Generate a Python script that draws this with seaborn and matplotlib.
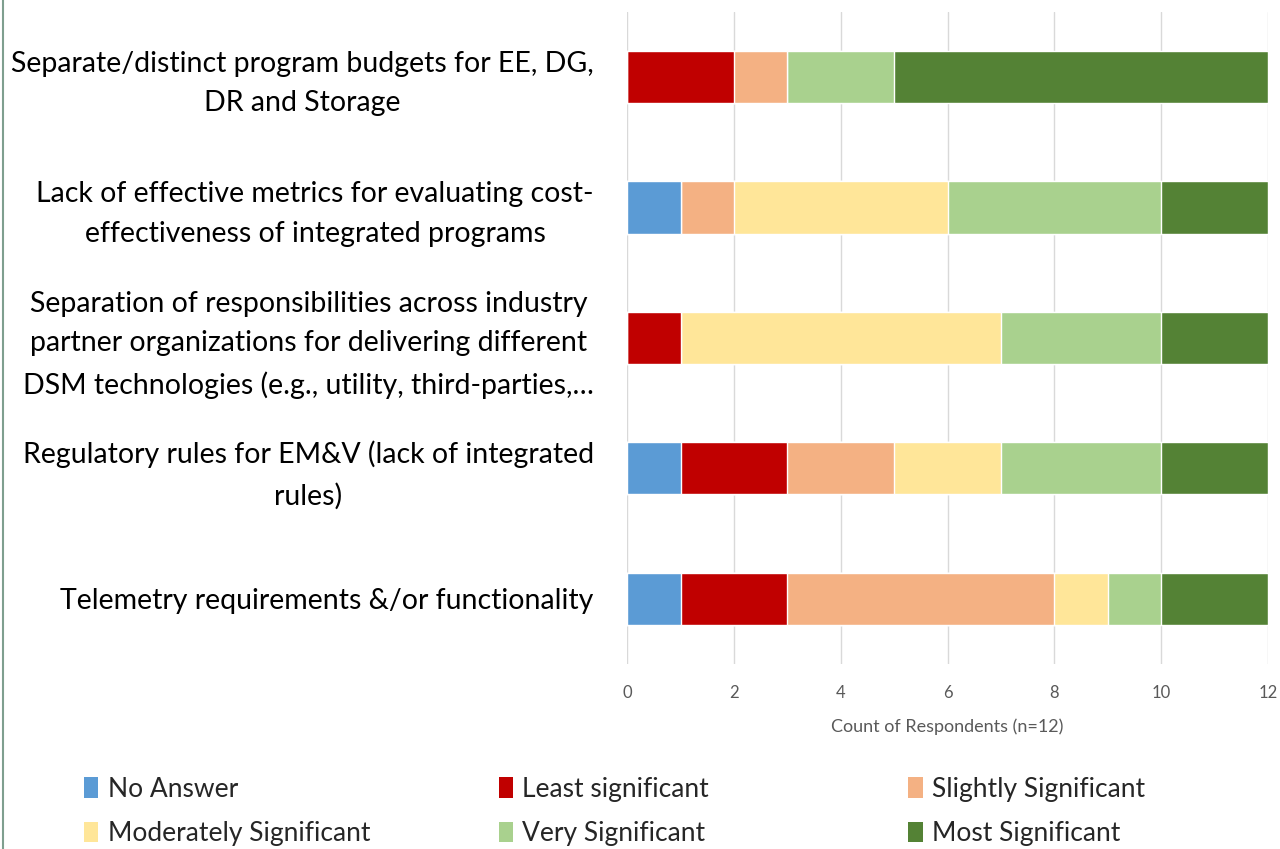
import numpy as np
import pandas as pd
import matplotlib
matplotlib.use("Agg")
import matplotlib.pyplot as plt
import matplotlib.transforms as mtransforms
import seaborn as sns
from matplotlib.patches import Patch

barriers = [
    "Separate/distinct program budgets for EE, DG,\nDR and Storage",
    "Lack of effective metrics for evaluating cost-\neffectiveness of integrated programs",
    "Separation of responsibilities across industry\npartner organizations for delivering different\nDSM technologies (e.g., utility, third-parties,\u2026",
    "Regulatory rules for EM&V (lack of integrated\nrules)",
    "Telemetry requirements &/or functionality",
]
levels = ["No Answer", "Least significant", "Slightly Significant",
          "Moderately Significant", "Very Significant", "Most Significant"]
no_answer = [0, 1, 0, 1, 1]
least = [2, 0, 1, 2, 2]
slightly = [1, 1, 0, 2, 5]
moderately = [0, 4, 6, 2, 1]
very = [2, 4, 3, 3, 1]
most = [7, 2, 2, 2, 2]
colors = ["#5B9BD5", "#C00000", "#F4B183", "#FFE699", "#A9D18E", "#548235"]

counts = np.array([no_answer, least, slightly, moderately, very, most])
cum = counts.cumsum(axis=0)

sns.set_theme(style="white")
plt.rcParams["font.family"] = ["Lato", "DejaVu Sans"]

fig, ax = plt.subplots(figsize=(12.8, 8.49), dpi=100)
fig.subplots_adjust(left=0.49, right=0.9906, top=0.986, bottom=0.218)

# stacked bars: draw cumulative totals from the longest down
for i in range(len(levels) - 1, -1, -1):
    df = pd.DataFrame({"barrier": barriers, "total": cum[i]})
    sns.barplot(data=df, x="total", y="barrier", color=colors[i],
                width=0.4, saturation=1, ax=ax, zorder=3)

ax.set_xlim(0, 12)
ax.set_ylim(4.5, -0.5)
ax.set_xticks(range(0, 13, 2))
ax.xaxis.grid(True, color="#D9D9D9", linewidth=1, zorder=0)
ax.set_axisbelow(True)
for s in ax.spines.values():
    s.set_visible(False)
ax.tick_params(axis="x", labelsize=12, labelcolor="#595959", length=0, pad=15)
ax.tick_params(axis="y", labelsize=20.5, labelcolor="black", length=0, pad=24)
for lbl in ax.get_yticklabels():
    lbl.set_multialignment("center")
    lbl.set_linespacing(1.65)
    # multi-line labels sit a little high in the original
    up = 3 if "\n" in lbl.get_text() else 0
    shift = mtransforms.ScaledTranslation(0, up / 100, fig.dpi_scale_trans)
    lbl.set_transform(lbl.get_transform() + shift)
ax.set_ylabel("")
ax.set_xlabel("Count of Respondents (n=12)", fontsize=13, color="#595959", labelpad=13)

# legend: three columns, two rows, filled row by row
xpos = [0.047, 0.371, 0.691]
for c in range(3):
    idx = [c, c + 3]
    handles = [Patch(facecolor=colors[k], edgecolor="none") for k in idx]
    fig.legend(handles, [levels[k] for k in idx], loc="lower left",
               bbox_to_anchor=(xpos[c], -0.025), ncol=1, frameon=False,
               fontsize=19, handlelength=0.55, handleheight=0.8,
               handletextpad=0.35, labelspacing=0.75, borderpad=0.4)

fig.add_artist(plt.Line2D([0.002, 0.002], [0, 1], color="#7F9F8F", linewidth=1.5))

fig.savefig("out.png", dpi=100)
